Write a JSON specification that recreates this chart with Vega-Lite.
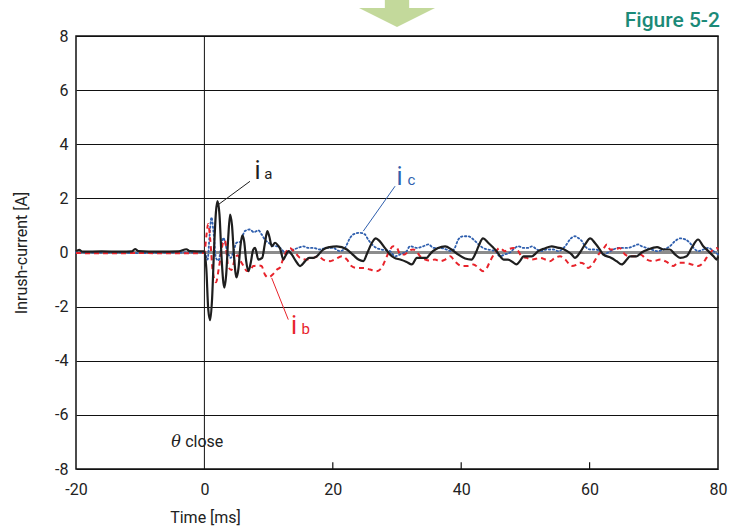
{
  "$schema": "https://vega.github.io/schema/vega-lite/v6.json",
  "width": 642,
  "height": 433,
  "autosize": {"type": "none"},
  "padding": {"left": 76, "top": 36, "right": 26, "bottom": 63},
  "background": "white",
  "config": {
    "font": "Roboto",
    "view": {"stroke": "#111", "strokeWidth": 1.5},
    "axisY": {"grid": true, "gridColor": "#111", "gridWidth": 1.1, "gridOpacity": 1, "ticks": false, "domain": false, "labelFlush": false, "labelFontSize": 16, "labelColor": "#222", "labelPadding": 8, "titleFontSize": 16, "titleFontWeight": "normal", "titleColor": "#222"},
    "axisX": {"grid": false, "domain": false, "ticks": false, "labelFlush": false, "labelFontSize": 16, "labelColor": "#222", "labelPadding": 12, "titleFontSize": 16, "titleFontWeight": "normal", "titleColor": "#222"}
  },
  "datasets": {
    "ia": [
      {"t":-20,"v":0.05},{"t":-19.5,"v":0.1},{"t":-19,"v":0.03},{"t":-16,"v":0.04},{"t":-13,"v":0.03},{"t":-11.3,"v":0.04},{"t":-10.8,"v":0.13},{"t":-10.3,"v":0.05},{"t":-7,"v":0.03},{"t":-4,"v":0.04},{"t":-2.8,"v":0.12},{"t":-2.3,"v":0.05},{"t":0,"v":0.04},
      {"t":0.3,"v":-0.6},{"t":0.6,"v":-2.1},{"t":0.9,"v":-2.5},{"t":1.2,"v":-1.7},{"t":1.5,"v":0.1},{"t":1.8,"v":1.5},{"t":2.05,"v":1.9},{"t":2.35,"v":1.4},{"t":2.7,"v":-0.3},{"t":3.1,"v":-1.3},{"t":3.4,"v":-0.8},{"t":3.7,"v":0.5},{"t":4.0,"v":1.4},{"t":4.3,"v":1.0},{"t":4.6,"v":-0.1},{"t":5.0,"v":-0.92},{"t":5.3,"v":-0.6},{"t":5.6,"v":0.2},{"t":5.9,"v":0.63},{"t":6.2,"v":0.4},{"t":6.5,"v":-0.3},{"t":6.85,"v":-0.69},{"t":7.2,"v":-0.4},{"t":7.6,"v":0.1},{"t":7.9,"v":0.17},{"t":8.4,"v":-0.26},{"t":9.0,"v":-0.2},{"t":9.4,"v":0.3},{"t":9.8,"v":0.79},{"t":10.1,"v":0.6},{"t":10.5,"v":0.23},{"t":11.0,"v":0.36},{"t":11.5,"v":0.25},{"t":11.8,"v":0.14},{"t":12.3,"v":-0.26},{"t":12.6,"v":-0.14},{"t":13.1,"v":0.05},{"t":13.6,"v":-0.07},{"t":14.2,"v":-0.3},{"t":14.9,"v":-0.5},{"t":15.7,"v":-0.32},{"t":16.3,"v":-0.2},{"t":17.0,"v":-0.2},{"t":17.5,"v":-0.14},{"t":18.5,"v":0.11},{"t":19.5,"v":0.2},{"t":20.6,"v":0.23},{"t":22.2,"v":0.11},{"t":23.2,"v":-0.1},{"t":24.0,"v":-0.26},{"t":24.75,"v":-0.32},{"t":25.4,"v":0.0},{"t":26.1,"v":0.36},{"t":26.7,"v":0.52},{"t":27.3,"v":0.42},{"t":28.1,"v":0.17},{"t":28.9,"v":-0.07},{"t":29.6,"v":-0.2},{"t":30.5,"v":-0.26},{"t":31.5,"v":-0.35},{"t":32.3,"v":-0.44},{"t":33.1,"v":-0.2},{"t":34.6,"v":-0.2},{"t":35.1,"v":-0.07},{"t":35.6,"v":0.05},{"t":36.4,"v":0.17},{"t":37.5,"v":0.23},{"t":38.5,"v":0.11},{"t":39.5,"v":-0.07},{"t":40.6,"v":-0.22},{"t":41.6,"v":-0.26},{"t":42.2,"v":-0.05},{"t":42.7,"v":0.23},{"t":43.4,"v":0.52},{"t":44.2,"v":0.36},{"t":44.9,"v":0.2},{"t":45.5,"v":0.05},{"t":46.1,"v":-0.15},{"t":46.6,"v":-0.26},{"t":47.3,"v":-0.26},{"t":48.0,"v":-0.35},{"t":48.6,"v":-0.44},{"t":49.2,"v":-0.3},{"t":49.7,"v":-0.14},{"t":51.0,"v":-0.14},{"t":52.0,"v":0.05},{"t":53.0,"v":0.15},{"t":54.1,"v":0.23},{"t":55.0,"v":0.18},{"t":55.7,"v":0.15},{"t":56.5,"v":0.05},{"t":57.2,"v":-0.07},{"t":57.7,"v":-0.2},{"t":58.5,"v":0.0},{"t":59.3,"v":0.3},{"t":60.1,"v":0.52},{"t":60.8,"v":0.36},{"t":61.6,"v":0.11},{"t":62.1,"v":-0.07},{"t":63.4,"v":-0.2},{"t":64.2,"v":-0.32},{"t":65.0,"v":-0.44},{"t":65.8,"v":-0.26},{"t":66.3,"v":-0.14},{"t":67.3,"v":-0.14},{"t":68.1,"v":0.0},{"t":69.1,"v":0.11},{"t":70.5,"v":0.2},{"t":71.5,"v":0.11},{"t":72.5,"v":0.11},{"t":73.3,"v":-0.07},{"t":74.1,"v":-0.2},{"t":75.1,"v":-0.14},{"t":75.9,"v":0.17},{"t":76.9,"v":0.48},{"t":77.7,"v":0.23},{"t":78.5,"v":0.05},{"t":79.3,"v":-0.14},{"t":79.8,"v":-0.26},{"t":80,"v":-0.15}
    ],
    "ib": [
      {"t":-20,"v":-0.02},{"t":-15,"v":-0.03},{"t":-10,"v":-0.02},{"t":-5,"v":-0.03},{"t":0,"v":-0.02},{"t":0.3,"v":0.6},{"t":0.6,"v":1.05},{"t":0.9,"v":0.5},{"t":1.3,"v":-0.7},{"t":1.8,"v":-1.1},{"t":2.3,"v":-0.5},{"t":2.9,"v":0.35},{"t":3.2,"v":0.45},{"t":3.7,"v":-0.5},{"t":4.2,"v":-0.65},{"t":4.8,"v":-0.2},{"t":5.2,"v":-0.1},{"t":5.6,"v":-0.3},{"t":6.1,"v":-0.5},{"t":6.6,"v":-0.68},{"t":7.1,"v":-0.68},{"t":7.6,"v":-0.5},{"t":8.4,"v":-0.48},{"t":8.9,"v":-0.5},{"t":9.4,"v":-0.8},{"t":9.95,"v":-0.92},{"t":10.7,"v":-0.8},{"t":11.3,"v":-0.63},{"t":11.8,"v":-0.55},{"t":12.3,"v":-0.2},{"t":12.8,"v":0.05},{"t":13.3,"v":0.17},{"t":14.1,"v":0.0},{"t":14.9,"v":-0.2},{"t":15.9,"v":-0.26},{"t":17.0,"v":-0.2},{"t":17.7,"v":-0.14},{"t":18.5,"v":-0.26},{"t":19.6,"v":-0.32},{"t":20.3,"v":-0.26},{"t":21.4,"v":-0.14},{"t":22.2,"v":-0.26},{"t":22.9,"v":-0.5},{"t":23.7,"v":-0.57},{"t":24.8,"v":-0.57},{"t":25.8,"v":-0.63},{"t":26.8,"v":-0.69},{"t":27.6,"v":-0.57},{"t":28.1,"v":-0.32},{"t":28.7,"v":0.0},{"t":29.4,"v":0.23},{"t":30.0,"v":0.17},{"t":30.5,"v":-0.07},{"t":31.2,"v":-0.07},{"t":31.8,"v":0.05},{"t":32.5,"v":0.11},{"t":33.0,"v":0.05},{"t":33.6,"v":-0.14},{"t":34.4,"v":-0.26},{"t":35.1,"v":-0.3},{"t":35.9,"v":-0.26},{"t":36.7,"v":-0.32},{"t":37.5,"v":-0.26},{"t":38.3,"v":-0.14},{"t":39.0,"v":-0.32},{"t":40.1,"v":-0.5},{"t":41.1,"v":-0.5},{"t":41.9,"v":-0.44},{"t":42.7,"v":-0.57},{"t":43.4,"v":-0.69},{"t":44.0,"v":-0.57},{"t":44.5,"v":-0.32},{"t":45.3,"v":0.0},{"t":46.0,"v":0.17},{"t":46.8,"v":0.05},{"t":47.3,"v":0.11},{"t":48.1,"v":0.17},{"t":48.9,"v":0.05},{"t":49.4,"v":-0.14},{"t":50.2,"v":-0.2},{"t":51.0,"v":-0.26},{"t":52.3,"v":-0.2},{"t":53.1,"v":-0.26},{"t":53.8,"v":-0.32},{"t":54.6,"v":-0.2},{"t":55.4,"v":-0.14},{"t":56.2,"v":-0.26},{"t":57.2,"v":-0.5},{"t":58.0,"v":-0.45},{"t":58.5,"v":-0.38},{"t":59.3,"v":-0.44},{"t":59.8,"v":-0.57},{"t":60.6,"v":-0.38},{"t":61.4,"v":-0.07},{"t":62.1,"v":0.11},{"t":62.7,"v":0.3},{"t":63.2,"v":0.11},{"t":64.0,"v":0.11},{"t":64.7,"v":0.17},{"t":65.5,"v":-0.07},{"t":66.3,"v":-0.14},{"t":67.1,"v":-0.14},{"t":67.9,"v":-0.07},{"t":68.9,"v":-0.26},{"t":69.9,"v":-0.32},{"t":71.0,"v":-0.26},{"t":72.0,"v":-0.35},{"t":73.0,"v":-0.5},{"t":73.8,"v":-0.38},{"t":74.9,"v":-0.38},{"t":75.9,"v":-0.44},{"t":76.9,"v":-0.5},{"t":77.7,"v":-0.38},{"t":78.2,"v":-0.2},{"t":79.0,"v":0.05},{"t":79.8,"v":0.17},{"t":80,"v":0.11}
    ],
    "ic": [
      {"t":-20,"v":0.0},{"t":-15,"v":0.0},{"t":-10,"v":-0.02},{"t":-5,"v":0.0},{"t":0,"v":0.0},{"t":0.5,"v":-0.26},{"t":0.8,"v":0.6},{"t":1.1,"v":1.3},{"t":1.4,"v":0.8},{"t":1.8,"v":-0.2},{"t":2.2,"v":-0.3},{"t":2.6,"v":0.2},{"t":2.95,"v":0.54},{"t":3.5,"v":0.11},{"t":4.1,"v":-0.2},{"t":4.6,"v":0.1},{"t":5.0,"v":0.36},{"t":5.6,"v":0.4},{"t":6.3,"v":0.79},{"t":7.1,"v":0.85},{"t":7.7,"v":0.75},{"t":8.4,"v":0.82},{"t":8.9,"v":0.67},{"t":9.5,"v":0.45},{"t":10.0,"v":0.36},{"t":10.7,"v":0.25},{"t":11.3,"v":0.23},{"t":11.8,"v":0.17},{"t":12.8,"v":-0.05},{"t":13.3,"v":0.05},{"t":13.9,"v":0.11},{"t":14.6,"v":0.17},{"t":15.4,"v":0.23},{"t":16.2,"v":0.17},{"t":17.0,"v":0.17},{"t":18.0,"v":0.11},{"t":19.0,"v":0.17},{"t":20.0,"v":0.17},{"t":21.1,"v":0.05},{"t":21.9,"v":0.17},{"t":22.7,"v":0.54},{"t":23.2,"v":0.67},{"t":24.2,"v":0.73},{"t":25.0,"v":0.67},{"t":25.5,"v":0.48},{"t":26.1,"v":0.3},{"t":26.8,"v":0.17},{"t":27.6,"v":0.11},{"t":28.9,"v":0.05},{"t":29.7,"v":-0.14},{"t":30.5,"v":-0.07},{"t":31.5,"v":0.05},{"t":32.0,"v":0.23},{"t":33.1,"v":0.17},{"t":34.1,"v":0.23},{"t":34.9,"v":0.3},{"t":35.7,"v":0.17},{"t":36.7,"v":0.17},{"t":37.7,"v":0.11},{"t":38.5,"v":0.05},{"t":39.0,"v":0.17},{"t":39.55,"v":0.48},{"t":40.3,"v":0.6},{"t":41.1,"v":0.6},{"t":41.9,"v":0.48},{"t":42.7,"v":0.3},{"t":43.4,"v":0.17},{"t":44.2,"v":0.11},{"t":45.3,"v":0.05},{"t":46.0,"v":-0.14},{"t":46.8,"v":-0.07},{"t":47.6,"v":0.0},{"t":48.1,"v":0.11},{"t":48.9,"v":0.23},{"t":49.7,"v":0.17},{"t":50.5,"v":0.17},{"t":51.0,"v":0.23},{"t":51.8,"v":0.11},{"t":52.5,"v":0.05},{"t":53.3,"v":0.11},{"t":54.4,"v":0.11},{"t":55.1,"v":0.05},{"t":56.2,"v":0.23},{"t":57.0,"v":0.5},{"t":57.7,"v":0.6},{"t":58.2,"v":0.54},{"t":58.8,"v":0.42},{"t":59.3,"v":0.23},{"t":60.1,"v":0.11},{"t":60.8,"v":0.11},{"t":61.6,"v":0.05},{"t":62.1,"v":-0.07},{"t":62.9,"v":0.0},{"t":63.7,"v":0.11},{"t":64.5,"v":0.17},{"t":65.3,"v":0.17},{"t":66.0,"v":0.17},{"t":66.8,"v":0.23},{"t":67.6,"v":0.3},{"t":68.1,"v":0.23},{"t":68.9,"v":0.17},{"t":69.7,"v":0.11},{"t":70.5,"v":0.05},{"t":71.5,"v":0.11},{"t":72.5,"v":0.23},{"t":73.3,"v":0.42},{"t":74.1,"v":0.52},{"t":74.9,"v":0.48},{"t":75.6,"v":0.36},{"t":76.2,"v":0.17},{"t":76.9,"v":0.05},{"t":77.7,"v":0.11},{"t":78.5,"v":0.17},{"t":79.3,"v":0.05},{"t":80,"v":-0.07}
    ],
    "leaders": [
      {"s":"a","t":2.17,"v":1.77,"t2":7.1,"v2":2.63},
      {"s":"b","t":10.48,"v":-0.94,"t2":13.07,"v2":-2.48},
      {"s":"c","t":24.75,"v":0.79,"t2":29.7,"v2":2.45}
    ],
    "mainLabels": [
      {"s":"a","t":8.27,"v":2.73,"txt":"i"},
      {"s":"b","t":13.96,"v":-3.03,"txt":"i"},
      {"s":"c","t":30.4,"v":2.51,"txt":"i"}
    ],
    "subLabels": [
      {"s":"a","t":9.95,"v":2.73,"txt":"a"},
      {"s":"b","t":15.8,"v":-3.03,"txt":"b"},
      {"s":"c","t":32.26,"v":2.51,"txt":"c"}
    ],
    "xticks": [{"t": 20}, {"t": 40}, {"t": 60}]
  },
  "layer": [
    {
      "data": {"values": [{"v": 0}]},
      "mark": {"type": "rule", "color": "#8c8c8c", "strokeWidth": 3},
      "encoding": {
        "y": {"field": "v", "type": "quantitative", "scale": {"domain": [-8, 8], "nice": false}, "axis": {"values": [-8,-6,-4,-2,0,2,4,6,8], "title": "Inrush-current [A]", "titleX": -47, "labelExpr": "datum.value < 0 ? '-' + abs(datum.value) : '' + datum.value"}}
      }
    },
    {
      "data": {"values": [{"t": 0}]},
      "mark": {"type": "rule", "color": "#111", "strokeWidth": 1},
      "encoding": {
        "x": {"field": "t", "type": "quantitative", "scale": {"domain": [-20, 80], "nice": false}, "axis": {"values": [-20,0,20,40,60,80], "title": "Time [ms]", "titleX": 129, "titleY": 40, "labelExpr": "datum.value < 0 ? '-' + abs(datum.value) : '' + datum.value"}}
      }
    },
    {
      "data": {"name": "xticks"},
      "mark": {"type": "rule", "color": "#111", "strokeWidth": 1.2},
      "encoding": {
        "x": {"field": "t", "type": "quantitative"},
        "y": {"datum": -8},
        "y2": {"datum": -7.75}
      }
    },
    {
      "data": {"name": "ic"},
      "mark": {"type": "line", "color": "#2f5fae", "strokeWidth": 1.8, "strokeDash": [1.5, 2.5], "strokeCap": "round", "interpolate": "monotone"},
      "encoding": {"x": {"field": "t", "type": "quantitative"}, "y": {"field": "v", "type": "quantitative"}}
    },
    {
      "data": {"name": "ib"},
      "mark": {"type": "line", "color": "#e8232b", "strokeWidth": 2, "strokeDash": [5, 4], "interpolate": "monotone"},
      "encoding": {"x": {"field": "t", "type": "quantitative"}, "y": {"field": "v", "type": "quantitative"}}
    },
    {
      "data": {"name": "ia"},
      "mark": {"type": "line", "color": "#1e1e1e", "strokeWidth": 2.2, "interpolate": "monotone"},
      "encoding": {"x": {"field": "t", "type": "quantitative"}, "y": {"field": "v", "type": "quantitative"}}
    },
    {
      "data": {"name": "leaders"},
      "mark": {"type": "rule", "strokeWidth": 1},
      "encoding": {
        "x": {"field": "t", "type": "quantitative"}, "y": {"field": "v", "type": "quantitative"},
        "x2": {"field": "t2"}, "y2": {"field": "v2"},
        "color": {"field": "s", "type": "nominal", "scale": {"domain": ["a","b","c"], "range": ["#1e1e1e","#e8232b","#2f5fae"]}, "legend": null}
      }
    },
    {
      "data": {"name": "mainLabels"},
      "mark": {"type": "text", "fontSize": 25, "align": "center", "baseline": "alphabetic", "font": "Roboto"},
      "encoding": {
        "x": {"field": "t", "type": "quantitative"}, "y": {"field": "v", "type": "quantitative"},
        "text": {"field": "txt"},
        "color": {"field": "s", "type": "nominal", "legend": null}
      }
    },
    {
      "data": {"name": "subLabels"},
      "mark": {"type": "text", "fontSize": 15, "align": "center", "baseline": "alphabetic", "font": "Roboto"},
      "encoding": {
        "x": {"field": "t", "type": "quantitative"}, "y": {"field": "v", "type": "quantitative"},
        "text": {"field": "txt"},
        "color": {"field": "s", "type": "nominal", "legend": null}
      }
    },
    {
      "data": {"values": [{"t": -4.4, "v": -7.17, "txt": "θ"}]},
      "mark": {"type": "text", "fontSize": 16, "fontStyle": "italic", "align": "center", "baseline": "alphabetic", "color": "#222", "font": "DejaVu Serif"},
      "encoding": {"x": {"field": "t", "type": "quantitative"}, "y": {"field": "v", "type": "quantitative"}, "text": {"field": "txt"}}
    },
    {
      "data": {"values": [{"t": -3.0, "v": -7.17, "txt": "close"}]},
      "mark": {"type": "text", "fontSize": 16, "align": "left", "baseline": "alphabetic", "color": "#222", "font": "Roboto"},
      "encoding": {"x": {"field": "t", "type": "quantitative"}, "y": {"field": "v", "type": "quantitative"}, "text": {"field": "txt"}}
    },
    {
      "data": {"values": [{"t": 80.3, "v": 8.33, "txt": "Figure 5-2"}]},
      "mark": {"type": "text", "fontSize": 21, "fontWeight": 500, "align": "right", "baseline": "alphabetic", "color": "#1b8a78", "font": "Roboto"},
      "encoding": {"x": {"field": "t", "type": "quantitative"}, "y": {"field": "v", "type": "quantitative"}, "text": {"field": "txt"}}
    },
    {
      "data": {"values": [{"t": 30, "v": 8.96}]},
      "mark": {"type": "point", "shape": "M-0.32,-1.2 L0.32,-1.2 L0.32,-0.05 L1,-0.05 L0,0.45 L-1,-0.05 L-0.32,-0.05 Z", "size": 5776, "filled": true, "color": "#c3d99b", "opacity": 1, "strokeWidth": 0, "clip": false},
      "encoding": {"x": {"field": "t", "type": "quantitative"}, "y": {"field": "v", "type": "quantitative"}}
    }
  ]
}
